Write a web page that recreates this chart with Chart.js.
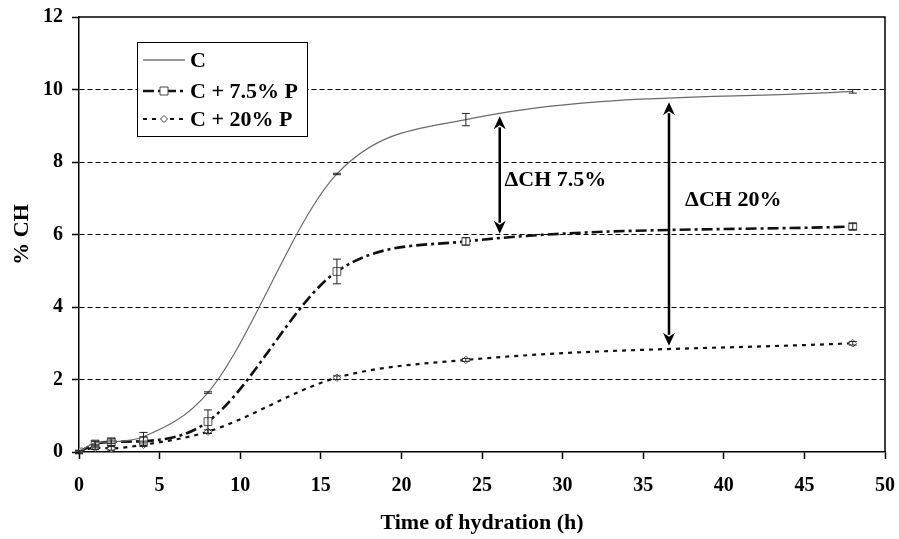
<!DOCTYPE html>
<html>
<head>
<meta charset="utf-8">
<script src="https://cdn.jsdelivr.net/npm/chart.js@4.4.1/dist/chart.umd.min.js"></script>
<style>
  html, body { margin: 0; padding: 0; background: #fff; }
  #wrap { width: 899px; height: 539px; }
</style>
</head>
<body>
<div id="wrap"><canvas id="chart" width="899" height="539"></canvas></div>
<script>
// hours of hydration and % CH
const hours = [0, 1, 2, 4, 8, 16, 24, 48];
const chC = [0, 0.25, 0.28, 0.42, 1.64, 7.67, 9.17, 9.95];
const chP75 = [0, 0.22, 0.28, 0.3, 0.84, 4.98, 5.81, 6.22];
const chP20 = [0, 0.12, 0.1, 0.2, 0.56, 2.05, 2.54, 3.0];
const errC = [0.03, 0.05, 0.05, 0.12, 0.02, 0.02, 0.17, 0.05];
const errP75 = [0.05, 0.08, 0.1, 0.12, 0.32, 0.34, 0.1, 0.08];
const errP20 = [0.03, 0.05, 0.05, 0.05, 0.05, 0.05, 0.04, 0.05];
const seriesNames = ['C', 'C + 7.5% P', 'C + 20% P'];
const xTicks = [0, 5, 10, 15, 20, 25, 30, 35, 40, 45, 50];
const yTicks = [0, 2, 4, 6, 8, 10, 12];
// ΔCH arrows: [x, yTop, yBottom, label, labelX, labelY]
const deltaArrows = [
  [26.1, 9.26, 6.02, '\u0394CH 7.5%', 26.4, 7.5],
  [36.6, 9.65, 2.93, '\u0394CH 20%', 37.6, 6.95]
];

const FONT = '"Liberation Serif", "Times New Roman", serif';

function pts(ys) {
  return hours.map((h, i) => ({x: h, y: ys[i]}));
}

const styles = [
  {color: '#6a6a6a', width: 1.2, dash: [], point: false, radius: 0},
  {color: '#111', width: 2.6, dash: [11, 4, 3, 4], point: 'rect', radius: 5.5},
  {color: '#111', width: 2.2, dash: [4, 5], point: 'rectRot', radius: 3.8}
];

// error bars for every series
const errorBars = {
  id: 'errorBars',
  afterDatasetsDraw(chart) {
    const {ctx, scales: {x, y}} = chart;
    const errs = [errC, errP75, errP20];
    const vals = [chC, chP75, chP20];
    ctx.save();
    ctx.strokeStyle = '#222';
    ctx.lineWidth = 1;
    ctx.setLineDash([]);
    errs.forEach((err, s) => {
      hours.forEach((h, i) => {
        const px = x.getPixelForValue(h);
        const top = y.getPixelForValue(vals[s][i] + err[i]);
        const bot = y.getPixelForValue(vals[s][i] - err[i]);
        ctx.beginPath();
        ctx.moveTo(px, top); ctx.lineTo(px, bot);
        ctx.moveTo(px - 4, top); ctx.lineTo(px + 4, top);
        ctx.moveTo(px - 4, bot); ctx.lineTo(px + 4, bot);
        ctx.stroke();
      });
    });
    ctx.restore();
  }
};

// frame, arrows, labels and the boxed legend
const extras = {
  id: 'extras',
  afterDraw(chart) {
    const {ctx, chartArea: a, scales: {x, y}} = chart;
    ctx.save();
    ctx.strokeStyle = '#000';
    ctx.lineWidth = 1.5;
    ctx.beginPath();
    ctx.moveTo(a.left, a.top); ctx.lineTo(a.right, a.top); ctx.lineTo(a.right, a.bottom);
    ctx.stroke();

    deltaArrows.forEach(([ax, yt, yb, label, lx, ly]) => {
      const px = x.getPixelForValue(ax);
      const t = y.getPixelForValue(yt);
      const b = y.getPixelForValue(yb);
      const hl = 13, hw = 6;
      ctx.fillStyle = '#000';
      ctx.lineWidth = 2.5;
      ctx.beginPath();
      ctx.moveTo(px, t + hl - 2); ctx.lineTo(px, b - hl + 2);
      ctx.stroke();
      ctx.beginPath();
      ctx.moveTo(px, t); ctx.lineTo(px - hw, t + hl); ctx.lineTo(px, t + hl - 4); ctx.lineTo(px + hw, t + hl);
      ctx.closePath(); ctx.fill();
      ctx.beginPath();
      ctx.moveTo(px, b); ctx.lineTo(px - hw, b - hl); ctx.lineTo(px, b - hl + 4); ctx.lineTo(px + hw, b - hl);
      ctx.closePath(); ctx.fill();
      ctx.font = 'bold 22px ' + FONT;
      ctx.textAlign = 'left';
      ctx.textBaseline = 'middle';
      ctx.fillText(label, x.getPixelForValue(lx), y.getPixelForValue(ly));
    });

    // legend box
    const bx = 137, by = 42, bw = 170, bh = 94;
    ctx.fillStyle = '#fff';
    ctx.fillRect(bx, by, bw, bh);
    ctx.lineWidth = 1;
    ctx.strokeStyle = '#000';
    ctx.strokeRect(bx + 0.5, by + 0.5, bw, bh);
    const rows = [60, 91, 119];
    rows.forEach((ry, i) => {
      const st = styles[i];
      ctx.strokeStyle = i === 0 ? '#333' : st.color;
      ctx.lineWidth = st.width;
      ctx.setLineDash(st.dash);
      ctx.beginPath();
      ctx.moveTo(143, ry); ctx.lineTo(185, ry);
      ctx.stroke();
      ctx.setLineDash([]);
      if (st.point) {
        ctx.fillStyle = '#fff';
        ctx.strokeStyle = '#444';
        ctx.lineWidth = 1;
        const r = st.point === 'rect' ? 4 : 3.5;
        ctx.beginPath();
        if (st.point === 'rect') {
          ctx.rect(164 - r, ry - r, 2 * r, 2 * r);
        } else {
          ctx.moveTo(164, ry - r); ctx.lineTo(164 + r, ry); ctx.lineTo(164, ry + r); ctx.lineTo(164 - r, ry);
          ctx.closePath();
        }
        ctx.fill(); ctx.stroke();
      }
      ctx.fillStyle = '#000';
      ctx.font = 'bold 22px ' + FONT;
      ctx.textAlign = 'left';
      ctx.textBaseline = 'middle';
      ctx.fillText(seriesNames[i], 190, ry + 1);
    });
    ctx.restore();
  }
};

const datasets = [chC, chP75, chP20].map((vals, i) => ({
  label: seriesNames[i],
  data: pts(vals),
  borderColor: styles[i].color,
  borderWidth: styles[i].width,
  borderDash: styles[i].dash,
  cubicInterpolationMode: 'monotone',
  pointStyle: styles[i].point || 'circle',
  pointRadius: styles[i].radius,
  pointBackgroundColor: '#fff',
  pointBorderColor: '#555',
  pointBorderWidth: 1,
  fill: false
}));

new Chart(document.getElementById('chart'), {
  type: 'line',
  data: {datasets: datasets},
  options: {
    responsive: false,
    animation: false,
    layout: {padding: {left: 0, top: 17, right: 14, bottom: 0}},
    plugins: {legend: {display: false}, tooltip: {enabled: false}},
    scales: {
      x: {
        type: 'linear',
        min: 0,
        max: 50,
        afterBuildTicks: (s) => { s.ticks = xTicks.map(v => ({value: v})); },
        afterFit: (s) => { s.height = 87; s.paddingLeft = 0; s.paddingRight = 0; },
        grid: {drawOnChartArea: false, drawTicks: true, tickLength: 7, tickColor: '#000', tickWidth: 1.5},
        border: {color: '#000', width: 1.5},
        ticks: {color: '#000', padding: 15, font: {family: FONT, size: 20, weight: 'bold'}},
        title: {display: true, text: 'Time of hydration (h)', color: '#000', padding: {top: 0, bottom: 2},
          font: {family: FONT, size: 22, weight: 'bold'}}
      },
      y: {
        min: 0,
        max: 12,
        afterBuildTicks: (s) => { s.ticks = yTicks.map(v => ({value: v})); },
        afterFit: (s) => { s.width = 79; s.paddingTop = 0; s.paddingBottom = 0; },
        grid: {
          color: (c) => (c.tick && (c.tick.value === 0 || c.tick.value === 12)) ? 'rgba(0,0,0,0)' : '#000',
          lineWidth: 1,
          tickLength: 7,
          tickColor: '#000',
          tickWidth: 1.5
        },
        border: {color: '#000', width: 1.5, dash: [5, 3]},
        ticks: {color: '#000', padding: 9, font: {family: FONT, size: 20, weight: 'bold'}},
        title: {display: true, text: '% CH', color: '#000', padding: {top: 9, bottom: 0},
          font: {family: FONT, size: 22, weight: 'bold'}}
      }
    }
  },
  plugins: [errorBars, extras]
});
</script>
</body>
</html>
